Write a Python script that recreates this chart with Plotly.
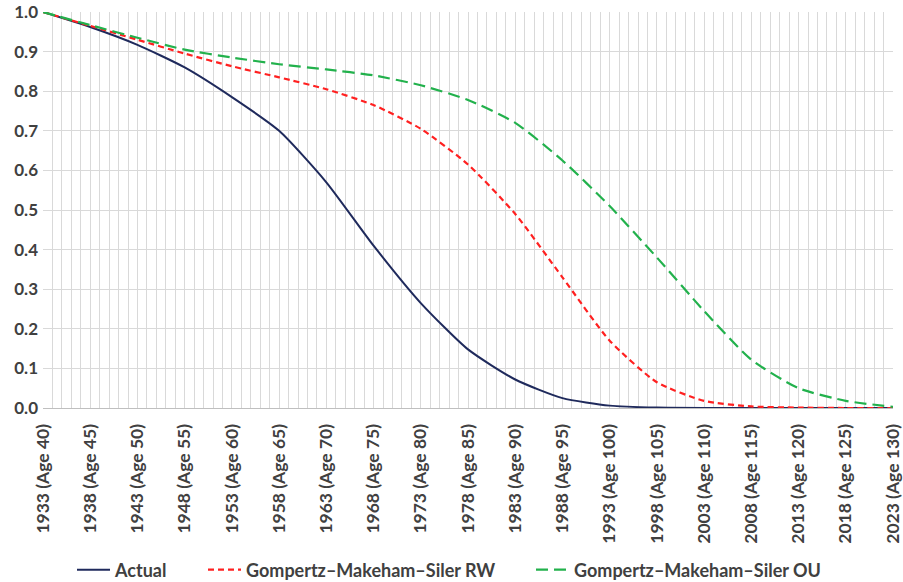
import plotly.graph_objects as go

ages = list(range(40, 131, 5))
years = [1933 + (a - 40) for a in ages]
tick_labels = [f"{y} (Age {a})" for y, a in zip(years, ages)]

actual = [1.0, 0.962, 0.917, 0.86, 0.785, 0.70, 0.57, 0.41, 0.265, 0.148, 0.072,
          0.025, 0.006, 0.001, 0.0, 0.0, 0.0, 0.0, 0.0]
gms_rw = [1.0, 0.965, 0.93, 0.895, 0.863, 0.835, 0.805, 0.765, 0.705, 0.615, 0.49,
          0.33, 0.17, 0.065, 0.018, 0.004, 0.001, 0.0, 0.0]
gms_ou = [1.0, 0.967, 0.935, 0.905, 0.885, 0.868, 0.855, 0.84, 0.815, 0.778, 0.72,
          0.625, 0.51, 0.38, 0.245, 0.122, 0.05, 0.018, 0.003]

xpos = [a - 40 for a in ages]
font = "Lato, 'Open Sans', sans-serif"
txt = "#404040"

fig = go.Figure()
fig.add_trace(go.Scatter(x=xpos, y=actual, name="Actual", mode="lines", legend="legend",
                         line=dict(color="#1f2a5c", width=2, shape="spline", smoothing=0.6)))
fig.add_trace(go.Scatter(x=xpos, y=gms_rw, name="Gompertz–Makeham–Siler RW", mode="lines",
                         legend="legend2",
                         line=dict(color="#ff2020", width=2.2, dash="6px,4px", shape="spline", smoothing=0.6)))
fig.add_trace(go.Scatter(x=xpos, y=gms_ou, name="Gompertz–Makeham–Siler OU", mode="lines",
                         legend="legend3",
                         line=dict(color="#22b14c", width=2.2, dash="12px,6px", shape="spline", smoothing=0.6)))

def leg(px):
    return dict(orientation="h", x=(px - 43) / 850, xanchor="left",
                y=-0.409, yanchor="middle",
                font=dict(size=18, family=font, color=txt, weight="bold"),
                itemwidth=33, bgcolor="rgba(0,0,0,0)")

fig.update_layout(
    width=903, height=582,
    margin=dict(l=43, r=10, t=12, b=174, autoexpand=False),
    plot_bgcolor="white", paper_bgcolor="white",
    font=dict(family=font, color=txt, size=17, weight="bold"),
    showlegend=True,
    legend=leg(72), legend2=leg(203), legend3=leg(531),
    xaxis=dict(range=[0, 90], tickmode="array", tickvals=xpos, ticktext=tick_labels,
               tickangle=-90, tickfont=dict(size=17.5, family=font, color=txt, weight="bold"),
               ticklabelstandoff=8, automargin=False,
               showgrid=True, gridcolor="#d9d9d9", gridwidth=1,
               minor=dict(dtick=1, tick0=0, showgrid=True, gridcolor="#d9d9d9", gridwidth=1),
               showline=True, linecolor="#bfbfbf", linewidth=1, mirror=False,
               zeroline=False, ticks="", fixedrange=True),
    yaxis=dict(range=[0, 1.0], dtick=0.1, tickformat=".1f", automargin=False,
               tickfont=dict(size=17, family=font, color=txt, weight="bold"),
               ticklabelstandoff=4,
               showgrid=True, gridcolor="#d9d9d9", gridwidth=1,
               zeroline=False, showline=False, ticks="", fixedrange=True),
)

fig.write_html("out.html", config={"displayModeBar": False},
               post_script="document.body.style.margin='0px';document.body.style.overflow='hidden';")
